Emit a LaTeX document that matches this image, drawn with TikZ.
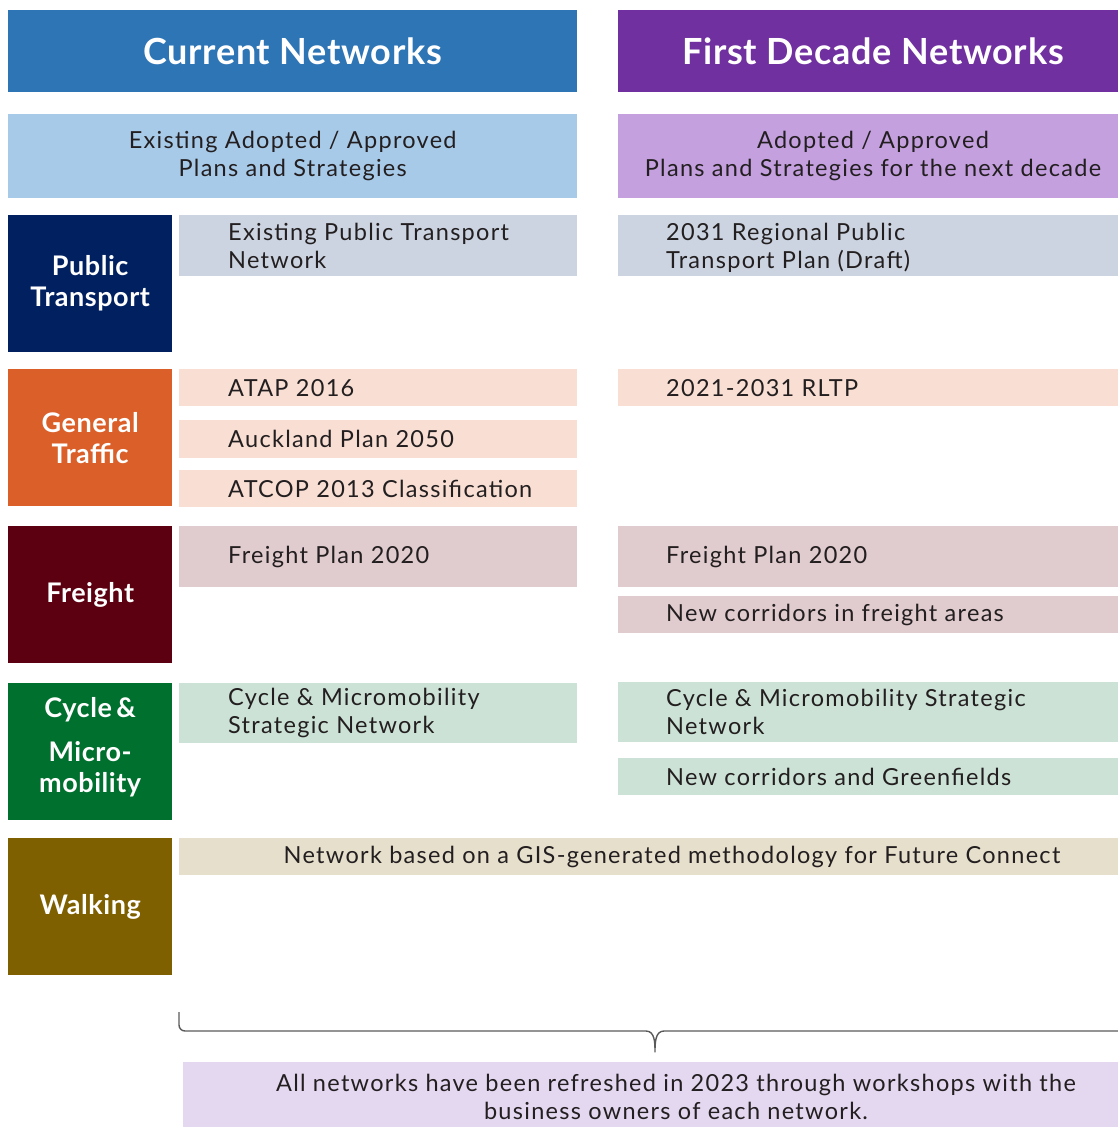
\documentclass[tikz,border=0pt]{standalone}
\usepackage{fontspec}
\setmainfont{Lato}[LetterSpace=2]
\newfontfamily\bodyfont{Lato}[LetterSpace=5.5]
\definecolor{hdrblue}{HTML}{2E75B6}
\definecolor{hdrpurple}{HTML}{7030A0}
\definecolor{subblue}{HTML}{A8CAE9}
\definecolor{subpurple}{HTML}{C4A0DF}
\definecolor{ptdark}{HTML}{002060}
\definecolor{gtdark}{HTML}{DA5F28}
\definecolor{frdark}{HTML}{5C0011}
\definecolor{cydark}{HTML}{00702E}
\definecolor{wkdark}{HTML}{7F6000}
\definecolor{ptlight}{HTML}{CCD4E1}
\definecolor{gtlight}{HTML}{F8DED3}
\definecolor{frlight}{HTML}{E0CBCE}
\definecolor{cylight}{HTML}{CCE2D6}
\definecolor{wklight}{HTML}{E6DFCC}
\definecolor{notefill}{HTML}{E4D7F0}
\definecolor{ink}{HTML}{231F20}
\definecolor{bracegray}{HTML}{5A5A5A}
\tikzset{
  band/.style={draw=none, inner sep=0pt, anchor=north west},
  headtext/.style={text=white, font=\fontsize{36}{42}\selectfont\bfseries, inner sep=0pt},
  cattext/.style={text=white, font=\fontsize{27}{31}\selectfont\bfseries, align=center, inner sep=0pt},
  bodytext/.style={text=ink, font=\bodyfont\fontsize{23.5}{28}\selectfont, align=left, inner sep=0pt, anchor=west},
  ctrtext/.style={text=ink, font=\bodyfont\fontsize{23.5}{28}\selectfont, align=center, inner sep=0pt},
  bracepath/.style={draw=bracegray, line width=1.4pt, line join=round}
}
\begin{document}
\begin{tikzpicture}[x=1pt,y=-1pt]
\useasboundingbox (0,0) rectangle (1118,1127);
\clip (0,0) rectangle (1118,1127);

% column headers
\node[band, fill=hdrblue, minimum width=569, minimum height=82] (hl) at (8,10) {};
\node[headtext] (hlt) at (hl.center) {Current Networks};
\node[band, fill=hdrpurple, minimum width=510, minimum height=82] (hr) at (618,10) {};
\node[headtext] (hrt) at (873,51) {First Decade Networks};

% sub headers
\node[band, fill=subblue, minimum width=569, minimum height=84] (sl) at (8,114) {};
\node[ctrtext] (slt) at (sl.center) {Existing Adopted / Approved\\Plans and Strategies};
\node[band, fill=subpurple, minimum width=510, minimum height=84] (sr) at (618,114) {};
\node[ctrtext] (srt) at (873,156) {Adopted / Approved\\Plans and Strategies for the next decade};

% category boxes
\node[band, fill=ptdark, minimum width=164, minimum height=137] (cpt) at (8,215) {};
\node[cattext] (cptt) at (cpt.center) {Public\\Transport};
\node[band, fill=gtdark, minimum width=164, minimum height=137] (cgt) at (8,369) {};
\node[cattext] (cgtt) at (cgt.center) {General\\Traffic};
\node[band, fill=frdark, minimum width=164, minimum height=137] (cfr) at (8,526) {};
\node[cattext] (cfrt) at (cfr.center) {Freight};
\node[band, fill=cydark, minimum width=164, minimum height=137] (ccy) at (8,683) {};
\node[cattext] (ccyt) at ([yshift=4]ccy.center) {Cycle\,\&\\[13pt]Micro-\\mobility};
\node[band, fill=wkdark, minimum width=164, minimum height=137] (cwk) at (8,838) {};
\node[cattext] (cwkt) at (cwk.center) {Walking};

% current network items
\node[band, fill=ptlight, minimum width=398, minimum height=61] (lpt) at (179,215) {};
\node[bodytext] (lptt) at ([xshift=49]lpt.west) {Existing Public Transport\\Network};
\node[band, fill=gtlight, minimum width=398, minimum height=37] (lgt1) at (179,369) {};
\node[bodytext] (lgt1t) at ([xshift=49]lgt1.west) {ATAP 2016};
\node[band, fill=gtlight, minimum width=398, minimum height=38] (lgt2) at (179,420) {};
\node[bodytext] (lgt2t) at ([xshift=49]lgt2.west) {Auckland Plan 2050};
\node[band, fill=gtlight, minimum width=398, minimum height=37] (lgt3) at (179,470) {};
\node[bodytext] (lgt3t) at ([xshift=49]lgt3.west) {ATCOP 2013 Classification};
\node[band, fill=frlight, minimum width=398, minimum height=61] (lfr) at (179,526) {};
\node[bodytext] (lfrt) at ([xshift=49]lfr.west) {Freight Plan 2020};
\node[band, fill=cylight, minimum width=398, minimum height=60] (lcy) at (179,683) {};
\node[bodytext] (lcyt) at ([xshift=49]lcy.west) {Cycle \& Micromobility\\Strategic Network};

% first decade items
\node[band, fill=ptlight, minimum width=510, minimum height=61] (rpt) at (618,215) {};
\node[bodytext] (rptt) at ([xshift=48,yshift=-2]rpt.west) {2031 Regional Public\\Transport Plan (Draft)};
\node[band, fill=gtlight, minimum width=510, minimum height=37] (rgt) at (618,369) {};
\node[bodytext] (rgtt) at ([xshift=48]rgt.west) {2021-2031 RLTP};
\node[band, fill=frlight, minimum width=510, minimum height=61] (rfr1) at (618,526) {};
\node[bodytext] (rfr1t) at ([xshift=48]rfr1.west) {Freight Plan 2020};
\node[band, fill=frlight, minimum width=510, minimum height=37] (rfr2) at (618,596) {};
\node[bodytext] (rfr2t) at ([xshift=48]rfr2.west) {New corridors in freight areas};
\node[band, fill=cylight, minimum width=510, minimum height=60] (rcy1) at (618,682) {};
\node[bodytext] (rcy1t) at ([xshift=48]rcy1.west) {Cycle \& Micromobility Strategic\\Network};
\node[band, fill=cylight, minimum width=510, minimum height=37] (rcy2) at (618,758) {};
\node[bodytext] (rcy2t) at ([xshift=48]rcy2.west) {New corridors and Greenfields};

% walking spans both columns
\node[band, fill=wklight, minimum width=949, minimum height=37] (wk) at (179,838) {};
\node[ctrtext] (wkt) at (672,857) {Network based on a GIS-generated methodology for Future Connect};

% brace gathering all rows
\coordinate (bl) at (179,1012);
\coordinate (bm) at (655,1052);
\coordinate (br) at (1125,1031);
\draw[bracepath] (bl) -- (179,1025) to[out=-90,in=180] (185,1031) -- (646,1031)
  to[out=0,in=90] (bm) to[out=90,in=180] (664,1031) -- (br);

% closing note
\node[band, fill=notefill, minimum width=945, minimum height=70] (note) at (183,1062) {};
\node[ctrtext] (notet) at (676,1097) {All networks have been refreshed in 2023 through workshops with the\\business owners of each network.};
\end{tikzpicture}
\end{document}
